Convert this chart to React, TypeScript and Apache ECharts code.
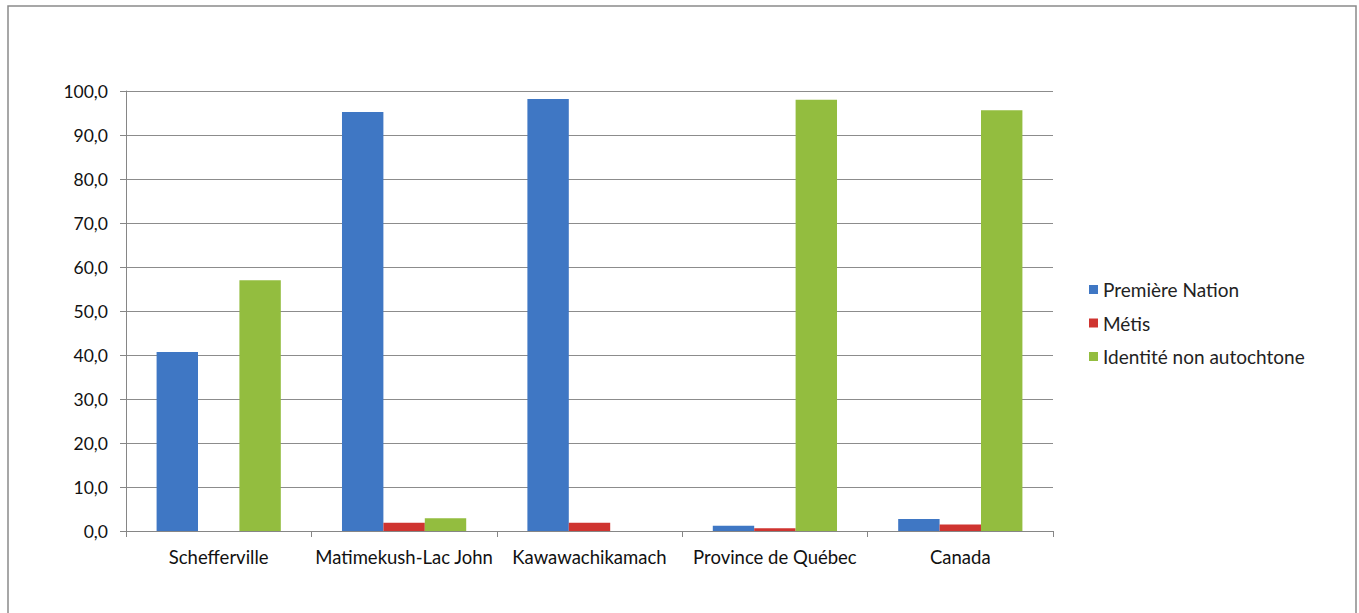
import React, { useEffect, useRef } from "react";
import * as echarts from "echarts";

const categories = ["Schefferville", "Matimekush-Lac John", "Kawawachikamach", "Province de Québec", "Canada"];
const premiereNation = [40.7, 95.2, 98.2, 1.2, 2.7];
const metis = [0, 1.9, 1.9, 0.6, 1.5];
const nonAutochtone = [57.0, 2.9, 0, 98.0, 95.6];
const seriesNames = ["Première Nation", "Métis", "Identité non autochtone"];
const colors = ["#3f77c4", "#cf3430", "#93bd3f"];

const FONT = "Lato, 'Open Sans', sans-serif";

export default function App() {
  const ref = useRef<HTMLDivElement>(null);
  useEffect(() => {
    const chart = echarts.init(ref.current!, null, { renderer: "svg" });
    const data = [premiereNation, metis, nonAutochtone];
    chart.setOption({
      animation: false,
      backgroundColor: "#ffffff",
      textStyle: { fontFamily: FONT },
      graphic: [
        {
          type: "rect",
          shape: { x: 8, y: 6, width: 1348, height: 700 },
          style: { fill: "none", stroke: "#8a8a8a", lineWidth: 1.5 },
          silent: true,
        },
      ],
      grid: { left: 126, right: 306, top: 91, bottom: 82, containLabel: false },
      legend: {
        orient: "vertical",
        left: 1084,
        top: 275,
        itemWidth: 9,
        itemHeight: 9,
        itemGap: 14.5,
        icon: "rect",
        textStyle: { fontSize: 19, color: "#222", fontFamily: FONT },
        data: seriesNames,
      },
      xAxis: {
        type: "category",
        data: categories,
        boundaryGap: true,
        axisLine: { show: true, lineStyle: { color: "#868686", width: 1 } },
        axisTick: { show: true, length: 6, lineStyle: { color: "#868686" } },
        axisLabel: { fontSize: 18.5, color: "#111", margin: 16, fontFamily: FONT, interval: 0 },
      },
      yAxis: {
        type: "value",
        min: 0,
        max: 100,
        interval: 10,
        axisLine: { show: true, lineStyle: { color: "#868686", width: 1 } },
        axisTick: { show: true, length: 6, lineStyle: { color: "#868686" } },
        splitLine: { show: true, lineStyle: { color: "#8c8c8c", width: 1 } },
        axisLabel: {
          fontSize: 17.5,
          color: "#111",
          margin: 18,
          fontFamily: FONT,
          formatter: (v: number) => v.toFixed(1).replace(".", ","),
        },
      },
      series: seriesNames.map((name, i) => ({
        name,
        type: "bar",
        data: data[i],
        barGap: "0%",
        barCategoryGap: "33%",
        itemStyle: { color: colors[i] },
      })),
    });
    return () => chart.dispose();
  }, []);
  return (
    <div
      ref={ref}
      style={{ position: "absolute", left: 0, top: 0, width: 1359, height: 613 }}
    />
  );
}
